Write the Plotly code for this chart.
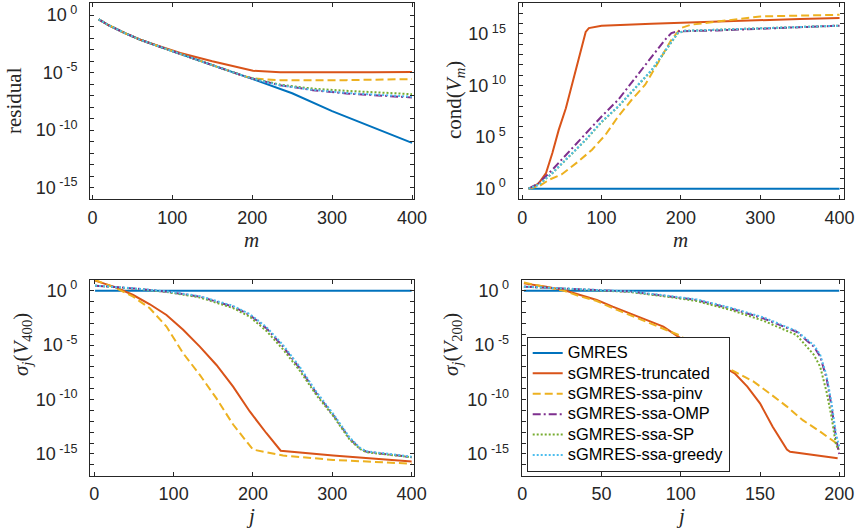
import plotly.graph_objects as go

# ---------------- data (values stored as log10 exponents) ----------------
names = ["GMRES", "sGMRES-truncated", "sGMRES-ssa-pinv", "sGMRES-ssa-OMP",
         "sGMRES-ssa-SP", "sGMRES-ssa-greedy"]
colors = ["#0072BD", "#D95319", "#EDB120", "#7E2F8E", "#77AC30", "#4DBEEE"]
dashes = ["solid", "solid", "8px,4px", "8px,3px,2px,3px", "2px,2px", "2px,2px"]

# panel 1: residual vs m
res_m = [
    [8, 20, 40, 60, 80, 100, 150, 200, 250, 300, 350, 400],
    [8, 20, 40, 60, 80, 100, 110, 150, 193, 201, 235, 318, 350, 400],
    [8, 20, 40, 60, 80, 100, 150, 190, 200, 218, 235, 318, 400],
    [8, 20, 40, 60, 80, 100, 150, 190, 200, 235, 276, 318, 360, 400],
    [8, 20, 40, 60, 80, 100, 150, 190, 200, 235, 276, 318, 360, 400],
    [8, 20, 40, 60, 80, 100, 150, 190, 200, 235, 276, 318, 360, 400],
]
res_log = [
    [-0.38, -0.87, -1.55, -2.15, -2.65, -3.15, -4.35, -5.55, -6.8, -8.35, -9.7, -11.12],
    [-0.38, -0.87, -1.55, -2.15, -2.63, -3.05, -3.3, -4.02, -4.73, -4.85, -4.97, -5.0, -4.98, -4.95],
    [-0.38, -0.87, -1.55, -2.15, -2.65, -3.15, -4.35, -5.31, -5.48, -5.6, -5.66, -5.66, -5.57],
    [-0.38, -0.87, -1.55, -2.15, -2.65, -3.15, -4.35, -5.31, -5.52, -6.1, -6.53, -6.82, -7.0, -7.17],
    [-0.38, -0.87, -1.55, -2.15, -2.65, -3.15, -4.35, -5.31, -5.5, -6.05, -6.4, -6.59, -6.75, -6.88],
    [-0.38, -0.87, -1.55, -2.15, -2.65, -3.15, -4.35, -5.31, -5.52, -6.12, -6.5, -6.78, -6.95, -7.1],
]

# panel 2: cond(V_m) vs m
cond_m = [
    [8, 400],
    [8, 15, 21, 30, 38, 46, 55, 63, 71, 80, 84, 100, 163, 246, 300, 345, 350, 400],
    [8, 21, 34, 50, 71, 88, 105, 121, 138, 155, 171, 188, 200, 213, 246, 300, 400],
    [8, 21, 38, 59, 80, 100, 121, 142, 163, 180, 188, 196, 246, 300, 400],
    [8, 21, 38, 59, 80, 100, 121, 142, 163, 184, 196, 205, 246, 300, 400],
    [8, 21, 38, 59, 80, 100, 121, 142, 163, 184, 196, 205, 246, 300, 400],
]
cond_log = [
    [0, 0],
    [0, 0.2, 0.55, 1.52, 3.46, 5.7, 7.8, 10.1, 12.5, 15.2, 15.57, 15.8, 16.0, 16.2, 16.4, 16.5, 16.45, 16.54],
    [0, 0.23, 0.87, 1.4, 2.65, 3.78, 5.23, 7.0, 8.62, 10.08, 12.18, 14.44, 15.57, 15.9, 16.2, 16.7, 16.86],
    [0, 0.55, 1.84, 3.62, 5.39, 7.0, 8.62, 10.72, 12.82, 14.44, 15.08, 15.25, 15.34, 15.5, 15.8],
    [0, 0.4, 1.5, 3.1, 4.72, 6.45, 7.95, 9.7, 11.45, 13.75, 15.05, 15.3, 15.4, 15.55, 15.8],
    [0, 0.39, 1.52, 3.13, 4.75, 6.5, 7.98, 9.75, 11.5, 13.8, 15.08, 15.3, 15.4, 15.55, 15.8],
]

# panel 3: sigma_j(V_400) vs j
sv400_j = [
    [1, 400],
    [1, 28, 49, 70, 91, 112, 133, 154, 175, 196, 217, 235, 301, 400],
    [1, 28, 49, 70, 91, 112, 133, 154, 175, 198, 200, 238, 301, 400],
    [1, 49, 91, 133, 175, 196, 217, 238, 259, 280, 301, 322, 335, 343, 400],
    [1, 49, 91, 133, 175, 196, 217, 238, 259, 280, 301, 322, 335, 343, 400],
    [1, 49, 91, 133, 175, 196, 217, 238, 259, 280, 301, 322, 335, 343, 400],
]
sv400_log = [
    [0, 0],
    [0.92, 0.28, -0.4, -1.25, -2.23, -3.6, -5.14, -6.83, -8.82, -11.1, -13.1, -14.7, -15.15, -15.7],
    [0.98, 0.21, -0.55, -1.62, -3.3, -5.75, -7.74, -9.9, -12.3, -14.5, -14.6, -15.15, -15.55, -15.9],
    [0.46, 0.21, -0.09, -0.55, -1.47, -2.23, -3.46, -5.14, -7.13, -9.43, -11.4, -13.6, -14.5, -14.8, -15.3],
    [0.46, 0.2, -0.12, -0.62, -1.6, -2.4, -3.7, -5.4, -7.35, -9.6, -11.5, -13.7, -14.55, -14.85, -15.3],
    [0.46, 0.22, -0.07, -0.5, -1.4, -2.15, -3.35, -5.0, -7.0, -9.3, -11.3, -13.5, -14.45, -14.75, -15.25],
]

# panel 4: sigma_j(V_200) vs j
sv200_j = [
    [1, 200],
    [1, 15, 26, 36, 47, 57, 68, 78, 89, 100, 110, 122, 134, 142, 150, 158, 167, 169, 199],
    [1, 15, 26, 36, 47, 57, 68, 78, 89, 100, 110, 122, 134, 146, 156, 167, 177, 188, 198, 200],
    [1, 26, 68, 89, 110, 131, 152, 173, 184, 188, 192, 195, 198, 200],
    [1, 26, 68, 89, 110, 131, 152, 173, 184, 188, 192, 195, 198, 200],
    [1, 26, 68, 89, 110, 131, 152, 173, 184, 188, 192, 195, 198, 200],
]
sv200_log = [
    [0, 0],
    [0.67, 0.37, 0.06, -0.4, -0.86, -1.47, -2.08, -2.69, -3.3, -4.38, -5.6, -6.6, -7.59, -8.82, -10.35, -12.5, -14.6, -14.8, -15.4],
    [0.75, 0.35, 0.0, -0.5, -0.95, -1.6, -2.25, -2.85, -3.46, -4.15, -5.5, -6.6, -7.44, -8.36, -9.43, -10.65, -11.9, -12.95, -14.0, -14.3],
    [0.37, 0.21, -0.09, -0.46, -0.86, -1.62, -2.54, -3.77, -5.14, -6.06, -8.05, -10.5, -13.56, -15.0],
    [0.37, 0.21, -0.12, -0.5, -0.95, -1.75, -2.75, -4.07, -5.9, -7.0, -9.3, -11.5, -14.2, -14.6],
    [0.37, 0.22, -0.07, -0.42, -0.8, -1.55, -2.45, -3.7, -5.0, -5.9, -7.8, -10.2, -13.2, -14.3],
]

x_ticks_400 = [0, 100, 200, 300, 400]
x_ticks_200 = [0, 50, 100, 150, 200]

# ---------------- figure ----------------
fig = go.Figure()
panels = [
    (res_m, res_log, "x", "y"),
    (cond_m, cond_log, "x2", "y2"),
    (sv400_j, sv400_log, "x3", "y3"),
    (sv200_j, sv200_log, "x4", "y4"),
]
for p, (xs, ls, xa, ya) in enumerate(panels):
    for k in range(6):
        fig.add_trace(go.Scatter(
            x=xs[k], y=[10 ** v for v in ls[k]], mode="lines",
            name=f'<span style="font-size:16.4px">{names[k]}</span>',
            xaxis=xa, yaxis=ya,
            line=dict(color=colors[k], width=2, dash=dashes[k]),
            showlegend=(p == 3), legendgroup=names[k],
        ))

W, H = 855, 531
AX = "#262626"
FONT = "Liberation Sans"


def fx(x):
    return x / W


def fy(y):
    return 1 - y / H


def log_ticks(lo, hi):
    vals, txt = [], []
    for e in range(lo, hi + 1):
        vals.append(10.0 ** e)
        txt.append(f"10<sup> {e}</sup>" if e % 5 == 0 else "")
    return vals, txt


def xax(x0, x1, rng, ticks, anchor):
    return dict(domain=[fx(x0), fx(x1)], range=rng, anchor=anchor,
                tickvals=ticks, ticks="inside", ticklen=4, tickcolor=AX,
                showline=True, linecolor=AX, linewidth=1, mirror="ticks",
                showgrid=False, zeroline=False, automargin=False,
                ticklabelstandoff=2,
                tickfont=dict(family=FONT, size=18, color=AX))


def yax(y0, y1, lo, hi, rng, anchor):
    v, t = log_ticks(lo, hi)
    return dict(domain=[fy(y1), fy(y0)], type="log", range=rng, anchor=anchor,
                tickvals=v, ticktext=t, ticks="inside", ticklen=4, tickcolor=AX,
                showline=True, linecolor=AX, linewidth=1, mirror="ticks",
                showgrid=False, zeroline=False, ticklabelstandoff=8, automargin=False,
                tickfont=dict(family=FONT, size=18, color=AX))


fig.update_layout(
    width=W, height=H, margin=dict(l=0, r=0, t=0, b=0, pad=0, autoexpand=False),
    paper_bgcolor="white", plot_bgcolor="white",
    xaxis=xax(90, 414, [-3, 402.5], x_ticks_400, "y"),
    yaxis=yax(3, 199, -16, 1, [-16, 1.05], "x"),
    xaxis2=xax(518.5, 844.3, [-4.7, 406], x_ticks_400, "y2"),
    yaxis2=yax(3, 199, -1, 18, [-1, 18], "x2"),
    xaxis3=xax(90, 414, [-5.4, 403], x_ticks_400, "y3"),
    yaxis3=yax(280, 475.7, -17, 1, [-17, 0.98], "x3"),
    xaxis4=xax(521.7, 844.3, [-0.4, 203.2], x_ticks_200, "y4"),
    yaxis4=yax(280, 475.7, -17, 1, [-17, 0.98], "x4"),
    legend=dict(x=fx(526.7), y=fy(336.7), xanchor="left", yanchor="top",
                bgcolor="white", bordercolor=AX, borderwidth=1,
                font=dict(family=FONT, size=13.4, color="#000000"),
                tracegroupgap=0, itemwidth=30),
)

SERIF = "Liberation Serif"
titles = [
    (252, 240, "<i>m</i>", 0),
    (680, 240, "<i>m</i>", 0),
    (250, 516, "<i>j</i>", 0),
    (680, 516, "<i>j</i>", 0),
    (14, 101, "residual", -90),
    (455, 100, "cond(<i>V<sub>m</sub></i>)", -90),
    (22, 345, "<i>σ<sub>j</sub></i>(<i>V</i><sub>400</sub>)", -90),
    (452, 345, "<i>σ<sub>j</sub></i>(<i>V</i><sub>200</sub>)", -90),
]
for x, y, t, ang in titles:
    fig.add_annotation(x=fx(x), y=fy(y), xref="paper", yref="paper",
                       text=t, showarrow=False, textangle=ang,
                       font=dict(family=SERIF, size=21, color=AX),
                       xanchor="center", yanchor="middle")

fig.write_html("out.html", config={"displayModeBar": False},
               post_script="document.body.style.margin='0';")
